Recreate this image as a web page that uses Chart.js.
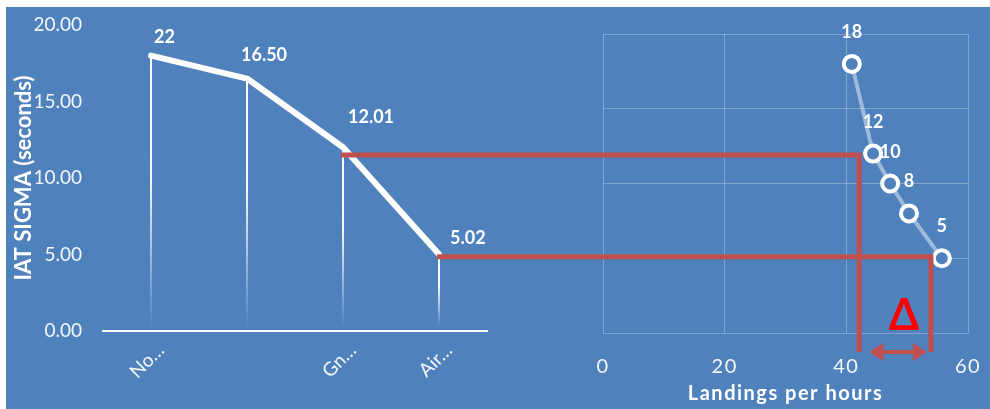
<!DOCTYPE html>
<html><head><meta charset="utf-8">
<script src="https://cdn.jsdelivr.net/npm/chart.js@4.4.0/dist/chart.umd.min.js"></script>
<style>
html,body{margin:0;padding:0;background:#fff;}
#wrap{position:relative;width:990px;height:409px;overflow:hidden;}
#bg{position:absolute;left:6px;top:7px;width:984px;height:402px;background:#4f81bd;}
canvas{position:absolute;left:0;top:0;}
</style></head><body>
<div id="wrap"><div id="bg"></div>
<canvas id="left" width="990" height="409"></canvas>
<canvas id="right" width="990" height="409"></canvas>
</div>
<script>
// ---- data ----
const categories = ['No…', '', 'Gn…', 'Air…'];
const iatSigma = [18.0, 16.5, 12.01, 5.02];
const iatLabels = ['22', '16.50', '12.01', '5.02'];
const landingsX = [40.9, 44.4, 47.2, 50.3, 55.7];
const landingsY = [18, 12, 10, 8, 5];
const landingsLabels = ['18', '12', '10', '8', '5'];
const guideLevels = [11.5, 4.85];     // on left IAT scale
const guideStartCats = [2, 3];        // category index where guide starts
const guideEndX = [42.1, 53.9];       // landings per hour where guide drops
const guideBottomY = -1.27;           // right chart y value of guide / arrow bottom
const deltaText = 'Δ';

// ---- styles ----
const FONT = 'Lato, "Open Sans", sans-serif';
const TICK = '#f4f6fa';
const GRID = 'rgba(255,255,255,0.28)';
const RED = '#c0504d';
const BLUE = '#4f81bd';

const dropLines = { id: 'dropLines', beforeDatasetsDraw(chart) {
  const meta = chart.getDatasetMeta(0);
  const y0 = chart.scales.y.getPixelForValue(0) - 5;
  const ctx = chart.ctx;
  ctx.save(); ctx.lineWidth = 2;
  meta.data.forEach(pt => {
    const g = ctx.createLinearGradient(0, pt.y, 0, y0);
    g.addColorStop(0, 'rgba(255,255,255,1)');
    g.addColorStop(0.45, 'rgba(255,255,255,0.95)');
    g.addColorStop(1, 'rgba(255,255,255,0.02)');
    ctx.strokeStyle = g;
    ctx.beginPath(); ctx.moveTo(pt.x, pt.y); ctx.lineTo(pt.x, y0); ctx.stroke();
  });
  ctx.restore();
}};

const leftLabels = { id: 'leftLabels', afterDatasetsDraw(chart, args, opts) {
  const meta = chart.getDatasetMeta(0); const ctx = chart.ctx;
  ctx.save();
  ctx.fillStyle = '#fff'; ctx.font = 'bold 18px ' + FONT;
  ctx.textAlign = 'left'; ctx.textBaseline = 'alphabetic';
  meta.data.forEach((pt, i) => {
    const n = opts.nudges[i];
    ctx.fillText(iatLabels[i], pt.x + n[0], pt.y + n[1]);
  });
  ctx.restore();
}};

const rightLabels = { id: 'rightLabels', afterDatasetsDraw(chart) {
  const meta = chart.getDatasetMeta(0); const ctx = chart.ctx;
  ctx.save();
  ctx.fillStyle = '#fff'; ctx.font = 'bold 18px ' + FONT;
  ctx.textAlign = 'center'; ctx.textBaseline = 'alphabetic';
  meta.data.forEach((pt, i) => ctx.fillText(landingsLabels[i], pt.x, pt.y - 26));
  ctx.restore();
}};

const spacing = { id: 'spacing',
  beforeDraw(chart) { chart.ctx.letterSpacing = '1.5px'; },
  beforeDatasetsDraw(chart) { chart.ctx.letterSpacing = '0px'; }
};

const leftChart = new Chart(document.getElementById('left'), {
  type: 'line',
  data: { labels: categories, datasets: [{
    data: iatSigma, borderColor: '#fff', borderWidth: 6, pointRadius: 0,
    borderCapStyle: 'round', borderJoinStyle: 'round', tension: 0
  }]},
  options: {
    responsive: false, animation: false, devicePixelRatio: 1,
    layout: { padding: { left: 0, top: 25, right: 503, bottom: 0 } },
    plugins: { legend: { display: false }, tooltip: { enabled: false },
      leftLabels: { nudges: [[3, -13], [-6, -18], [5, -24], [11, -10]] } },
    scales: {
      x: { offset: true, grid: { display: false, drawTicks: false },
        border: { display: true, color: '#fff', width: 2 },
        ticks: { color: TICK, font: { family: FONT, size: 19 }, maxRotation: 45, minRotation: 45,
          autoSkip: false, padding: 8, labelOffset: 10 },
        afterFit: s => { s.height = 78; s.paddingLeft = 0; s.paddingRight = 0; } },
      y: { min: 0, max: 20,
        ticks: { stepSize: 5, callback: v => v.toFixed(2), color: TICK, font: { family: FONT, size: 19 }, padding: 21 },
        grid: { display: false, drawTicks: false }, border: { display: false },
        title: { display: true, text: 'IAT SIGMA (seconds)', color: '#fff',
          font: { family: FONT, size: 22, weight: 'bold' }, padding: { top: 11 } },
        afterFit: s => { s.width = 103; s.paddingTop = 0; s.paddingBottom = 0; } }
    }
  },
  plugins: [dropLines, leftLabels]
});

const guides = { id: 'guides', afterDraw(chart) {
  const ctx = chart.ctx;
  const lx = leftChart.scales.x, ly = leftChart.scales.y;
  const rx = chart.scales.x, ry = chart.scales.y;
  const yb = ry.getPixelForValue(guideBottomY);
  ctx.save();
  ctx.letterSpacing = '0px';
  ctx.strokeStyle = RED; ctx.lineWidth = 5; ctx.lineJoin = 'miter'; ctx.lineCap = 'butt';
  guideLevels.forEach((lv, i) => {
    const y = ly.getPixelForValue(lv);
    const x0 = lx.getPixelForValue(guideStartCats[i]) - 2;
    const x1 = rx.getPixelForValue(guideEndX[i]);
    ctx.beginPath(); ctx.moveTo(x0, y); ctx.lineTo(x1, y); ctx.lineTo(x1, yb); ctx.stroke();
  });
  // double arrow between the two drops
  const a0 = rx.getPixelForValue(guideEndX[0]) + 10;
  const a1 = rx.getPixelForValue(guideEndX[1]) - 4;
  const hl = 14, hh = 9;
  ctx.fillStyle = RED; ctx.lineWidth = 4;
  ctx.beginPath(); ctx.moveTo(a0 + hl - 2, yb); ctx.lineTo(a1 - hl + 2, yb); ctx.stroke();
  ctx.beginPath(); ctx.moveTo(a0, yb); ctx.lineTo(a0 + hl, yb - hh); ctx.lineTo(a0 + hl, yb + hh); ctx.closePath(); ctx.fill();
  ctx.beginPath(); ctx.moveTo(a1, yb); ctx.lineTo(a1 - hl, yb - hh); ctx.lineTo(a1 - hl, yb + hh); ctx.closePath(); ctx.fill();
  // delta
  ctx.fillStyle = '#ff0000'; ctx.font = 'bold 43px ' + FONT;
  ctx.textAlign = 'center'; ctx.textBaseline = 'alphabetic';
  ctx.fillText(deltaText, (a0 + a1) / 2 + 6, ry.getPixelForValue(0) - 3);
  ctx.restore();
}};

const rightChart = new Chart(document.getElementById('right'), {
  type: 'scatter',
  data: { datasets: [{
    data: landingsX.map((x, i) => ({ x: x, y: landingsY[i] })),
    showLine: true, borderColor: 'rgba(255,255,255,0.45)', borderWidth: 4,
    pointRadius: 8, pointBorderWidth: 4, pointBorderColor: '#fff', pointBackgroundColor: BLUE
  }]},
  options: {
    responsive: false, animation: false, devicePixelRatio: 1,
    layout: { padding: { left: 603, top: 34, right: 22, bottom: 0 } },
    plugins: { legend: { display: false }, tooltip: { enabled: false } },
    scales: {
      x: { type: 'linear', min: 0, max: 60,
        ticks: { stepSize: 20, color: TICK, font: { family: FONT, size: 20 }, padding: 22 },
        grid: { color: GRID, drawTicks: false }, border: { display: false },
        title: { display: true, text: 'Landings per hours', color: '#fff',
          font: { family: FONT, size: 20, weight: 'bold' }, padding: { top: 0, bottom: 3 } },
        afterFit: s => { s.height = 76; s.paddingLeft = 0; s.paddingRight = 0; } },
      y: { min: 0, max: 20,
        ticks: { stepSize: 5, display: false },
        grid: { color: GRID, drawTicks: false }, border: { display: false },
        afterFit: s => { s.width = 0; s.paddingTop = 0; s.paddingBottom = 0; } }
    }
  },
  plugins: [spacing, rightLabels, guides]
});
</script>
</body></html>
